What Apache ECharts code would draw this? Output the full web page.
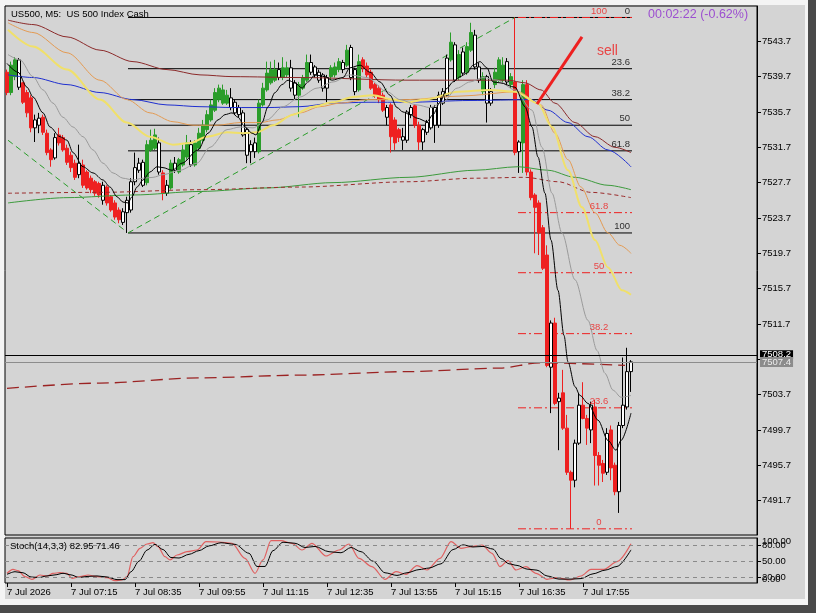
<!DOCTYPE html>
<html><head><meta charset="utf-8">
<script src="https://cdn.jsdelivr.net/npm/echarts@6/dist/echarts.min.js"></script>
<style>
html,body{margin:0;padding:0;background:#4a4a4a;width:816px;height:613px;overflow:hidden}
#frame{position:absolute;left:0;top:0;width:808px;height:605px;background:#f4f4f4}
#win{position:absolute;left:5px;top:5px;width:800px;height:594px;background:#d4d4d4}
#chart{position:absolute;left:0;top:0;width:816px;height:613px}
</style></head><body>
<div id="frame"></div><div id="win"></div><div id="chart"></div>
<script>
const FONT = "'Liberation Sans', Arial, sans-serif";
const symbolName = 'US500, M5:  US 500 Index Cash';
const timerText = '00:02:22 (-0.62%)';
const stochTitle = 'Stoch(14,3,3) 82.95 71.46';
const sellText = 'sell';

const xTickIdx = [0,16,32,48,64,80,96,112,128,144];
const xTickLabels = ['7 Jul 2026','7 Jul 07:15','7 Jul 08:35','7 Jul 09:55','7 Jul 11:15','7 Jul 12:35','7 Jul 13:55','7 Jul 15:15','7 Jul 16:35','7 Jul 17:55'];
const priceTicks = [7491.7,7495.7,7499.7,7503.7,7507.7,7511.7,7515.7,7519.7,7523.7,7527.7,7531.7,7535.7,7539.7,7543.7];
const priceLabels = [7491.7,7495.7,7499.7,7503.7,7511.7,7515.7,7519.7,7523.7,7527.7,7531.7,7535.7,7539.7,7543.7];
const askPrice = 7508.2, bidPrice = 7507.4;

const openP = [7540.2,7537.9,7539.7,7541.6,7539.0,7537.9,7537.3,7533.9,7534.2,7535.1,7533.3,7531.4,7530.5,7533.1,7532.8,7531.6,7530.8,7529.9,7528.6,7529.7,
7528.9,7528.2,7527.8,7527.6,7525.7,7527.2,7526.1,7525.4,7524.6,7523.2,7524.3,7524.6,7527.8,7529.1,7530.0,7527.7,7531.4,7531.6,7532.2,7528.8,
7526.5,7527.1,7529.9,7528.9,7529.7,7530.6,7532.0,7529.7,7531.6,7532.5,7533.7,7534.8,7535.9,7537.1,7536.7,7536.7,7537.3,7536.8,7536.2,7535.6,
7533.7,7531.2,7531.2,7531.2,7536.5,7538.2,7539.0,7539.3,7540.5,7539.6,7539.9,7540.7,7539.0,7537.6,7538.4,7539.3,7541.3,7540.8,7540.2,7539.9,
7538.4,7539.7,7539.9,7540.5,7541.3,7541.0,7543.0,7540.5,7538.2,7541.6,7540.9,7540.2,7538.8,7538.4,7537.6,7536.2,7536.5,7534.8,7533.7,7532.5,
7532.5,7535.4,7536.4,7534.2,7532.3,7533.4,7533.9,7536.2,7534.2,7536.7,7537.6,7541.6,7543.3,7539.6,7542.5,7540.2,7542.7,7544.4,7540.8,7538.0,
7539.7,7536.7,7538.8,7539.3,7539.3,7541.4,7538.8,7539.1,7531.2,7532.2,7538.8,7528.9,7526.3,7525.4,7522.6,7519.5,7506.8,7511.8,7502.9,7503.9,
7499.9,7494.9,7494.0,7498.2,7502.5,7501.0,7499.7,7502.3,7496.8,7495.9,7494.9,7499.7,7495.7,7492.7,7500.2,7502.3,7506.3];
const highP = [7540.5,7541.4,7541.9,7541.8,7539.1,7538.2,7537.6,7535.4,7535.6,7535.4,7533.7,7531.6,7533.3,7533.9,7533.1,7532.0,7531.2,7530.3,7532.0,7530.3,
7529.1,7528.5,7528.0,7527.8,7527.8,7527.4,7526.3,7525.7,7524.9,7524.8,7526.1,7528.2,7531.1,7530.5,7530.3,7532.5,7533.7,7533.8,7532.8,7529.1,
7528.0,7530.3,7530.6,7530.5,7532.0,7533.1,7532.5,7532.5,7533.9,7534.8,7535.9,7537.1,7538.4,7538.8,7538.8,7538.2,7538.4,7537.1,7536.5,7535.9,
7533.9,7532.5,7532.8,7537.1,7539.0,7541.4,7541.4,7541.6,7541.3,7541.9,7541.4,7541.6,7539.3,7539.1,7539.9,7542.2,7542.2,7541.0,7540.5,7540.1,
7539.9,7541.0,7541.3,7541.8,7541.6,7543.3,7543.3,7540.7,7542.2,7541.9,7541.3,7540.5,7539.0,7538.7,7537.9,7536.5,7536.7,7535.1,7533.9,7533.9,
7535.9,7536.5,7536.6,7534.6,7533.9,7534.8,7536.5,7536.5,7538.0,7538.4,7542.2,7544.7,7543.6,7542.7,7543.0,7543.6,7545.8,7545.0,7541.3,7540.2,
7539.9,7538.4,7540.7,7541.9,7541.9,7541.8,7540.1,7546.4,7532.5,7539.3,7539.3,7529.2,7526.5,7525.7,7522.9,7520.6,7512.1,7512.4,7503.9,7506.5,
7501.4,7495.1,7498.6,7503.9,7505.1,7501.4,7502.9,7503.1,7497.2,7496.3,7499.9,7500.2,7496.0,7500.6,7507.9,7509.0,7507.6];
const lowP = [7537.6,7537.6,7539.3,7538.2,7536.6,7535.1,7533.4,7532.3,7533.3,7533.1,7530.8,7529.5,7530.3,7531.9,7531.2,7529.7,7528.9,7528.0,7528.2,7527.1,
7526.9,7526.5,7526.2,7526.0,7525.2,7525.1,7524.4,7523.5,7523.1,7522.9,7522.0,7524.3,7527.4,7528.8,7527.2,7527.4,7531.2,7531.4,7528.6,7525.7,
7526.2,7526.9,7528.8,7528.7,7529.5,7530.3,7529.5,7529.5,7531.4,7532.3,7533.4,7534.6,7535.7,7536.8,7536.5,7536.5,7535.9,7535.4,7535.1,7532.9,
7529.9,7529.9,7530.5,7531.0,7536.3,7538.0,7538.8,7539.1,7539.3,7539.3,7539.6,7538.0,7537.1,7535.1,7538.2,7539.1,7539.9,7539.6,7539.0,7538.0,
7536.8,7539.3,7539.6,7540.2,7540.1,7540.8,7539.3,7537.6,7538.0,7540.2,7539.6,7538.2,7537.3,7536.7,7535.7,7534.2,7531.1,7531.4,7532.3,7531.4,
7532.2,7535.0,7533.9,7531.4,7531.4,7533.1,7533.7,7532.2,7533.9,7536.5,7537.4,7541.4,7539.1,7539.3,7539.9,7539.9,7542.5,7540.5,7539.0,7537.6,
7534.5,7536.4,7538.4,7539.1,7539.1,7538.8,7538.4,7530.8,7528.8,7528.8,7528.5,7525.7,7519.7,7519.5,7517.8,7506.8,7501.6,7502.5,7497.4,7499.7,
7494.6,7488.5,7493.2,7498.0,7500.9,7498.0,7498.2,7493.4,7493.4,7493.8,7494.6,7494.0,7492.3,7490.3,7499.9,7502.0,7504.0];
const closeP = [7537.9,7541.0,7541.6,7538.5,7536.8,7535.6,7533.9,7534.8,7535.0,7533.4,7531.1,7530.3,7532.8,7532.2,7531.4,7530.0,7529.4,7528.3,7529.9,7527.4,
7527.1,7526.9,7526.5,7526.3,7527.4,7525.4,7524.6,7523.8,7523.5,7524.4,7525.7,7527.8,7529.4,7529.9,7527.4,7532.0,7532.5,7533.1,7528.9,7526.5,
7527.4,7529.9,7529.1,7530.3,7531.4,7532.2,7529.7,7532.2,7533.3,7534.2,7535.4,7536.5,7537.9,7538.4,7538.2,7537.6,7536.2,7535.6,7535.4,7533.1,
7530.8,7532.0,7532.2,7536.7,7538.4,7540.1,7540.5,7540.5,7539.6,7540.7,7540.7,7538.4,7537.6,7538.8,7539.6,7541.3,7540.2,7539.9,7539.3,7538.4,
7539.6,7540.7,7540.8,7541.4,7540.5,7542.7,7539.6,7538.0,7541.4,7540.7,7539.9,7538.4,7537.6,7537.1,7535.9,7535.1,7532.9,7532.2,7532.8,7532.9,
7535.7,7536.2,7534.2,7532.3,7533.7,7534.5,7536.2,7534.2,7537.6,7538.0,7541.8,7543.6,7539.3,7542.2,7540.1,7543.1,7544.7,7540.8,7539.3,7539.7,
7536.7,7538.0,7540.2,7541.6,7541.0,7539.1,7539.7,7531.1,7532.3,7538.8,7528.9,7526.0,7524.9,7522.0,7518.0,7507.0,7511.8,7502.7,7503.3,7499.9,
7494.9,7494.0,7498.2,7502.5,7501.0,7499.9,7502.5,7496.8,7495.7,7494.8,7499.3,7495.4,7492.7,7500.2,7502.5,7506.3,7507.4];
// trend colouring state of each bar: 1 = up (green), -1 = down (red), 0 = neutral
const barTrend = [-1,1,1,0,-1,-1,-1,0,0,-1,-1,-1,0,-1,-1,-1,-1,-1,0,-1,
-1,-1,-1,-1,0,-1,-1,-1,-1,0,0,0,0,0,0,1,1,1,0,-1,
0,1,0,1,1,1,0,1,1,1,1,1,1,1,1,1,0,0,0,0,
0,0,0,1,1,1,1,1,0,1,1,0,0,1,1,1,0,0,0,0,
0,1,1,1,0,1,0,0,1,-1,-1,-1,-1,-1,-1,0,-1,-1,-1,0,
0,0,-1,-1,0,0,0,0,0,0,0,1,0,1,0,1,1,0,0,1,
0,0,1,1,1,0,1,-1,0,1,-1,-1,-1,-1,-1,-1,0,-1,0,-1,
-1,-1,0,0,-1,-1,0,-1,-1,-1,0,-1,-1,0,0,0,0];

// moving averages: [bar position, price]
const maFast = [[0,7541.2],[2.75,7540.2],[5,7538.5],[6.5,7537.4],[9,7535.6],[10.75,7534.0],[13.25,7532.9],[15,7532.5],[16.5,7531.1],[19,7529.5],[21.5,7528.8],[24,7528.0],[25.75,7527.2],[27.5,7526.1],[29,7525.5],[30.25,7525.4],[31.25,7526.1],[32.5,7527.2],[34,7528.0],[35.75,7528.9],[37.5,7529.5],[39,7529.4],[41.25,7529.1],[43.75,7529.9],[47.75,7531.4],[50.25,7533.3],[52.75,7534.8],[54.5,7535.4],[56.25,7535.6],[57.75,7535.1],[59.5,7534.0],[61.25,7533.3],[62.25,7533.1],[63.75,7534.5],[65.25,7536.3],[67,7537.9],[68.75,7538.8],[70.25,7539.3],[72,7539.0],[73.75,7538.4],[75.25,7539.1],[77,7539.9],[79.5,7539.7],[81.25,7539.3],[84,7539.6],[85.75,7540.7],[88.25,7541.0],[90.75,7540.2],[93.25,7539.1],[95.75,7537.6],[97.5,7536.2],[99,7535.7],[100.75,7535.4],[102.5,7535.0],[105,7534.6],[106.5,7535.4],[108.25,7536.8],[110,7538.4],[111.5,7539.1],[113.25,7539.7],[115,7540.1],[116.5,7541.0],[118.25,7541.4],[120,7540.7],[121.5,7539.1],[123.25,7539.0],[127,7538.5],[129.5,7536.3],[131.25,7534.0],[132.75,7530.6],[134.5,7526.5],[136,7521.2],[137.75,7515.5],[139.25,7510.4],[140.25,7507.4],[142,7504.6],[143.25,7503.6],[145.25,7502.7],[147.75,7500.8],[150.25,7498.5],[152.25,7497.4],[153.5,7498.5],[156,7501.6]];
const maGray = [[0.25,7542.2],[3.25,7541.6],[6.5,7539.7],[9,7538.2],[11.5,7536.7],[14,7535.1],[16.5,7534.0],[19,7532.9],[21.5,7531.4],[24,7529.9],[26.5,7528.8],[29,7528.2],[31.5,7528.0],[34,7528.2],[36.5,7528.3],[39,7528.6],[43.25,7529.1],[47.5,7529.9],[50.75,7531.7],[55,7533.7],[58.25,7534.0],[61.5,7533.9],[65,7534.8],[69,7536.3],[73.25,7537.4],[77.5,7538.4],[81.5,7539.1],[85.75,7539.9],[90,7539.6],[95,7538.0],[98.25,7537.1],[102.5,7536.5],[105.75,7536.2],[109,7536.8],[112.5,7538.4],[115.75,7539.1],[119,7539.6],[122.5,7539.3],[127,7538.2],[131.25,7535.9],[133.75,7531.7],[136.25,7526.5],[138.75,7522.0],[142,7516.7],[145.25,7512.1],[147.5,7508.7],[149.5,7506.1],[151.5,7504.2],[153.5,7503.4],[156,7503.6]];
const maYellow = [[0.25,7545.0],[6.5,7543.1],[15,7540.5],[23.25,7537.1],[30,7534.5],[35.75,7532.9],[41.5,7532.0],[45.75,7532.2],[50,7532.9],[55,7533.4],[59,7533.3],[62.5,7533.4],[66.5,7534.2],[71.5,7535.4],[76.5,7536.3],[81.5,7536.8],[86.5,7537.4],[91.5,7537.6],[96.5,7537.1],[100.25,7536.8],[104.5,7537.1],[112.75,7538.0],[120.75,7538.2],[127,7538.0],[132.75,7536.7],[136.25,7534.0],[140.25,7529.1],[143.75,7524.9],[147,7521.2],[150.25,7518.1],[153.75,7515.5],[156,7515.0]];
const maOrange = [[0.25,7545.8],[6.5,7544.7],[15,7542.4],[23.25,7539.3],[30,7537.1],[35.75,7535.6],[41.5,7534.6],[46.5,7534.2],[52.5,7534.2],[58.25,7534.5],[63.25,7534.5],[67.5,7534.8],[73.25,7535.6],[78.25,7536.3],[83.25,7536.7],[90,7537.1],[100.25,7537.1],[113.25,7537.5],[127.75,7538.0],[133.5,7536.5],[137,7533.3],[140.25,7530.3],[143.5,7527.2],[147,7524.3],[150.25,7522.0],[153.25,7520.6],[156,7519.7]];
const maBlue = [[0.25,7539.9],[6.5,7539.6],[15,7538.8],[23.25,7537.9],[31.5,7537.1],[40,7536.5],[48.25,7536.3],[56.5,7536.2],[65,7536.2],[73.25,7536.3],[81.5,7536.7],[90,7536.8],[100.25,7536.8],[115.75,7537.0],[131,7537.1],[135.25,7535.9],[140.25,7534.5],[145.25,7532.9],[150.25,7531.4],[156,7529.5]];
const maBrown = [[0.25,7546.1],[6.5,7545.6],[15,7544.2],[23.25,7542.7],[31.5,7541.4],[40,7540.5],[48.25,7539.9],[56.5,7539.7],[73.25,7539.6],[100.25,7539.3],[125.25,7539.3],[129.5,7539.0],[133.5,7538.2],[137,7536.7],[142,7534.5],[147,7532.9],[152,7531.7],[156,7531.1]];
const maGreen = [[0.25,7525.4],[15,7526.0],[31.5,7526.3],[48.25,7526.7],[65,7527.1],[81.5,7527.7],[100.25,7528.3],[117,7529.1],[127.75,7529.5],[135.25,7529.1],[142,7528.3],[150.25,7527.4],[156,7526.9]];
const maDashRed = [[0.25,7526.5],[23.25,7526.6],[48.25,7526.9],[73.25,7527.2],[100.25,7527.8],[117,7528.2],[129.5,7528.3],[137.75,7527.8],[146,7526.6],[156,7526.0]];
const maLongDash = [[0,7504.4],[23.25,7505.0],[48.25,7505.6],[73.25,7505.9],[100.25,7506.3],[123.25,7506.7],[133.25,7507.3],[154.5,7507.0]];

// fibonacci objects
const fibBlackLevels = ['0','23.6','38.2','50','61.8','100'];
const fibBlackPrices = [7546.4,7540.6,7537.1,7534.2,7531.3,7522.0];
const fibBlackSpan = [30.25,156.25];
const fibBlackLabelAt = 155.75;
const fibRedLevels = ['100','61.8','50','38.2','23.6','0'];
const fibRedPrices = [7546.4,7524.3,7517.5,7510.6,7502.2,7488.5];
const fibRedSpan = [127.75,156.25];
const fibRedLabelAt = 148;
const trendLines = [[[0.25,7532.5],[30,7522.1]],[[30.25,7522.0],[127,7546.4]]];
const sellArrow = [[143.75,7544.2],[132.5,7536.6]];
const sellNote = [150.1,7542.6];

// stochastic
const stochLevels = [20,50,80];
const stochK = [[0,27.0],[1.5,34.6],[2.75,32.0],[4.5,20.6],[6.25,15.6],[8.25,23.8],[10,21.9],[11.5,27.0],[13.25,28.2],[15,27.0],[16.25,17.5],[18.25,20.6],[20.25,23.8],[22.5,20.6],[25,18.7],[27,13.0],[28.75,14.3],[30,20.6],[31.5,58.5],[33.25,74.4],[35,82.6],[36.5,85.1],[37.75,77.6],[39.5,58.5],[40.75,52.3],[42.5,61.7],[45,68.0],[47.5,71.2],[49.75,87.0],[53,86.4],[56.25,83.9],[59.5,55.4],[62,27.0],[64,52.3],[66,88.9],[68.5,88.9],[71.25,83.9],[73.75,71.2],[76.25,83.9],[79.75,59.8],[83,71.2],[85.5,82.6],[88,55.4],[91.25,39.6],[94.5,15.6],[97.25,30.1],[99.75,25.1],[102.5,41.5],[105,33.3],[108.25,55.4],[111,87.0],[113.5,74.4],[116,77.6],[118.75,80.7],[121.25,64.9],[123.25,39.6],[125.25,51.0],[127.25,33.3],[129.75,39.6],[132.25,27.0],[135,15.6],[137.5,18.7],[140.75,14.3],[143.5,21.9],[146,34.5],[149.25,34.5],[152.5,49.1],[156,82.95]];
const stochD = [[0,25],[2,30],[4,28],[6,20],[8,19],[10,22],[12,24],[14,27],[16,24],[18,19],[20,21],[22.5,22],[25,20],[27.5,15],[29.5,15],[31,30],[33,50],[35,71],[37,82],[39,72],[41,57],[43,56],[45.5,63],[48,70],[50.5,79],[53.5,85],[57,82],[60.5,65],[62.5,40],[64.5,40],[66.5,70],[69,86],[72,84],[74.5,76],[77,78],[80.5,68],[83.5,66],[86,76],[88.5,68],[91.5,50],[94.5,28],[97.5,23],[100,28],[103,34],[105.5,37],[108.5,45],[111.5,72],[114,81],[116.5,77],[119,78],[121.5,73],[123.5,55],[125.5,45],[127.5,42],[130,35],[132.5,33],[135,22],[138,16],[141,16],[143.5,17],[146.5,26],[149.5,33],[152.5,40],[156,71.46]];

const N_CAT = 188;
function pad(n){return (n<10?'0':'')+n;}
const categories = [];
for (let i=0;i<N_CAT;i++){const m=5*60+55+5*i;categories.push(pad(Math.floor(m/60)%24)+':'+pad(m%60));}
const tickLabelOf = {};
xTickIdx.forEach((k,j)=>{tickLabelOf[k]=xTickLabels[j];});

const C_GREEN='#2a9d2a', C_RED='#ee2020';
const candleData = openP.map((o,i)=>{
  const t = barTrend[i];
  let st;
  if (t===1) st={color:C_GREEN,color0:C_GREEN,borderColor:C_GREEN,borderColor0:C_GREEN};
  else if (t===-1) st={color:C_RED,color0:C_RED,borderColor:C_RED,borderColor0:C_RED};
  else st={color:'#ffffff',color0:'#000000',borderColor:'#000000',borderColor0:'#000000'};
  return {value:[o,closeP[i],lowP[i],highP[i]],itemStyle:st};
});

function seg(data, ls, z){
  return {type:'line',xAxisIndex:2,yAxisIndex:0,data:data,symbol:'none',silent:true,lineStyle:ls,z:z,animation:false};
}
const series = [];
fibBlackPrices.forEach(p=>series.push(seg([[fibBlackSpan[0],p],[fibBlackSpan[1],p]],{color:'#000',width:1,type:'solid'},1)));
fibRedPrices.forEach(p=>series.push(seg([[fibRedSpan[0],p],[fibRedSpan[1],p]],{color:C_RED,width:1,type:[8,3,2,3]},1.5)));
trendLines.forEach(l=>series.push(seg(l,{color:C_GREEN,width:1,type:[6,4]},1.2)));

const lblBase = {fontFamily:FONT,fontSize:9.5};
series.push({type:'candlestick',xAxisIndex:0,yAxisIndex:0,data:candleData,barWidth:3.4,z:2,silent:true,
  markLine:{silent:true,symbol:'none',animation:false,
    data:[
      {yAxis:askPrice,lineStyle:{color:'#000',width:1,type:'solid'},
       label:Object.assign({show:true,position:'end',distance:3,formatter:askPrice.toFixed(1),backgroundColor:'#000',color:'#fff',padding:[0,2],lineHeight:9},lblBase)},
      {yAxis:bidPrice,lineStyle:{color:'#8c8c8c',width:1,type:'solid'},
       label:Object.assign({show:true,position:'end',distance:3,formatter:bidPrice.toFixed(1),backgroundColor:'#8c8c8c',color:'#ececec',padding:[0,2],lineHeight:10},lblBase)}
    ]}
});

const maSpec = [
  [maGreen,'#3c9a3c',1,'solid'],
  [maDashRed,'#9a2a2a',1,[4,3]],
  [maLongDash,'#9b2323',1.3,[12,6]],
  [maBrown,'#8b2a2a',1,'solid'],
  [maBlue,'#1f2fcf',1,'solid'],
  [maOrange,'#e39a52',1,'solid'],
  [maYellow,'#f0e06a',2,'solid'],
  [maGray,'#9a9a9a',1,'solid'],
  [maFast,'#000000',1,'solid']
];
maSpec.forEach(s=>series.push({type:'line',xAxisIndex:2,yAxisIndex:0,data:s[0],symbol:'none',smooth:0.3,smoothMonotone:'x',silent:true,
  lineStyle:{color:s[1],width:s[2],type:s[3]},z:3,animation:false}));

series.push({type:'scatter',xAxisIndex:2,yAxisIndex:0,silent:true,z:5,symbolSize:1,itemStyle:{color:'rgba(0,0,0,0)'},
  data:fibBlackPrices.map(p=>[fibBlackLabelAt,p]),
  label:Object.assign({show:true,position:'top',distance:1,align:'right',color:'#000',formatter:p=>fibBlackLevels[p.dataIndex]},lblBase)});
series.push({type:'scatter',xAxisIndex:2,yAxisIndex:0,silent:true,z:5,symbolSize:1,itemStyle:{color:'rgba(0,0,0,0)'},
  data:fibRedPrices.map(p=>[fibRedLabelAt,p]),
  label:Object.assign({show:true,position:'top',distance:1,color:C_RED,formatter:p=>fibRedLevels[p.dataIndex]},lblBase)});
series.push({type:'scatter',xAxisIndex:2,yAxisIndex:0,silent:true,z:6,symbolSize:1,itemStyle:{color:'rgba(0,0,0,0)'},
  data:[sellNote],
  label:{show:true,position:'inside',formatter:sellText,color:C_RED,fontSize:14,fontFamily:FONT},
  markLine:{silent:true,animation:false,symbol:['none','arrow'],symbolSize:[1,14],
    lineStyle:{color:C_RED,width:3,type:'solid'},label:{show:false},
    data:[[{coord:sellArrow[0]},{coord:sellArrow[1]}]]}});

series.push({type:'line',xAxisIndex:3,yAxisIndex:1,data:stochK,symbol:'none',smooth:0.3,smoothMonotone:'x',silent:true,
  lineStyle:{color:'#e06060',width:1.2},z:3,animation:false});
series.push({type:'line',xAxisIndex:3,yAxisIndex:1,data:stochD,symbol:'none',smooth:0.3,smoothMonotone:'x',silent:true,
  lineStyle:{color:'#000',width:1},z:4,animation:false,
  markLine:{silent:true,symbol:'none',animation:false,label:{show:false},
    lineStyle:{color:'#8a8a8a',width:1,type:[4,4]},
    data:stochLevels.map(v=>({yAxis:v}))}});

const xLabelInterval = (idx)=> tickLabelOf[idx]!==undefined;
const option = {
  animation:false,
  backgroundColor:'transparent',
  title:[
    {text:symbolName,left:11,top:9,padding:0,textStyle:{fontSize:9.5,fontWeight:'normal',color:'#000',fontFamily:FONT}},
    {text:timerText,left:648,top:8,padding:0,textStyle:{fontSize:12.5,fontWeight:'normal',color:'#9c4fd0',fontFamily:FONT}},
    {text:stochTitle,left:10,top:541,padding:0,textStyle:{fontSize:9.5,fontWeight:'normal',color:'#000',fontFamily:FONT}}
  ],
  grid:[
    {left:5,top:6,width:752,height:529,show:true,borderColor:'#000',borderWidth:1,backgroundColor:'transparent',outerBoundsMode:'none'},
    {left:5,top:538,width:752,height:45,show:true,borderColor:'#000',borderWidth:1,backgroundColor:'transparent',outerBoundsMode:'none'}
  ],
  xAxis:[
    {type:'category',gridIndex:0,data:categories,boundaryGap:true,show:false,axisLine:{onZero:false}},
    {type:'category',gridIndex:1,data:categories,boundaryGap:true,
      axisLine:{show:false,onZero:false},
      axisTick:{show:true,alignWithLabel:true,interval:xLabelInterval,length:4,lineStyle:{color:'#000'}},
      axisLabel:{show:true,interval:xLabelInterval,formatter:(v,idx)=>tickLabelOf[idx]||'',align:'left',margin:4,color:'#000',fontSize:9.5,fontFamily:FONT},
      splitLine:{show:false}},
    {type:'value',gridIndex:0,min:-0.5,max:N_CAT-0.5,show:false,axisLine:{onZero:false}},
    {type:'value',gridIndex:1,min:-0.5,max:N_CAT-0.5,show:false,axisLine:{onZero:false}}
  ],
  yAxis:[
    {type:'value',gridIndex:0,position:'right',min:7487.8,max:7547.7,splitLine:{show:false},
      axisLine:{show:true,onZero:false,lineStyle:{color:'#000'}},
      axisTick:{show:true,length:4,customValues:priceTicks,lineStyle:{color:'#000'}},
      axisLabel:{show:true,customValues:priceLabels,margin:5,color:'#000',fontSize:9.5,fontFamily:FONT,formatter:v=>v.toFixed(1)}},
    {type:'value',gridIndex:1,position:'right',min:8.6,max:94.0,splitLine:{show:false},
      axisLine:{show:true,onZero:false,lineStyle:{color:'#000'}},
      axisTick:{show:true,length:4,customValues:stochLevels,lineStyle:{color:'#000'}},
      axisLabel:{show:true,customValues:stochLevels,margin:5,color:'#000',fontSize:9.5,fontFamily:FONT,formatter:v=>v.toFixed(2)}},
    {type:'value',gridIndex:1,position:'right',min:-10.5,max:107.9,splitLine:{show:false},
      axisLine:{show:false,onZero:false},axisTick:{show:false},
      axisLabel:{show:true,customValues:[0,100],margin:5,color:'#000',fontSize:9.5,fontFamily:FONT,formatter:v=>v.toFixed(2)}}
  ],
  series:series
};
const chart = echarts.init(document.getElementById('chart'),null,{renderer:'canvas'});
chart.setOption(option);
</script></body></html>
